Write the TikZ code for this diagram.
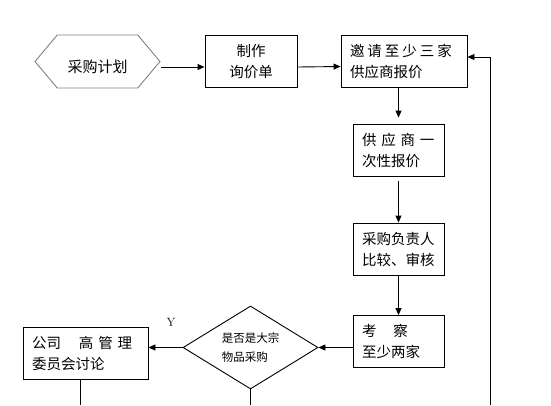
\documentclass[tikz,border=0pt]{standalone}
\usepackage{fontspec}
\usepackage{tikz}
\usetikzlibrary{arrows.meta, shapes.geometric, shapes.symbols}
\newfontfamily\cjk{Noto Sans CJK SC}

\begin{document}
\begin{tikzpicture}[x=1pt, y=-1pt,
	box/.style={draw, line width=0.9pt, align=left, inner xsep=9pt, inner ysep=0pt,
		minimum height=52pt, font=\cjk\fontsize{14.5}{21}\selectfont},
	arr/.style={line width=0.9pt, -{Triangle[length=7pt, width=6pt]}},
	wire/.style={line width=0.9pt}]
	\useasboundingbox (0,0) rectangle (551,405);
	
	% Nodes of the flow
	\node[signal, signal to=east and west, signal pointer angle=100, draw=gray, line width=0.9pt,
		minimum width=125pt, minimum height=53pt, inner sep=0pt, text height=22pt, text depth=0pt,
		font=\cjk\fontsize{15}{18}\selectfont] (plan) at (97.5, 61.5) {采购计划};
	\node[box, align=center, text width=74pt] (ask) at (251, 61.5) {制作\\询价单};
	\node[box, text width=108pt] (invite) at (404, 61)
		{邀\kern3pt 请\kern3pt 至\kern3pt 少\kern3pt 三\kern3pt 家\\供应商报价};
	\node[box, text width=73pt] (quote) at (398.5, 150) {供 应 商 一\\次性报价};
	\node[box, text width=73pt] (compare) at (398.5, 249) {采购负责人\\比较、审核};
	\node[box, text width=73pt] (survey) at (398.5, 341.5) {考\hspace{17pt}察\\至少两家};
	\node[draw, diamond, aspect=1.63, line width=0.9pt, minimum width=135pt, minimum height=83pt,
		inner sep=0pt, align=left, font=\cjk\fontsize{11.5}{19}\selectfont] (decide) at (250.5, 347.5)
		{是否是大宗\\物品采购};
	\node[box, text width=107pt] (board) at (85.5, 353) {公司\hspace{18pt}高 管 理\\委员会讨论};
	\node[font=\fontsize{12}{14}\selectfont] (ylab) at (171, 322) {Y};
	
	% Free ends at the lower edge
	\coordinate (boardend) at (80, 405);
	\coordinate (decideend) at (250.5, 405);
	\coordinate (loopend) at (490, 405);
	\coordinate (loopturn) at (490, 57);
	
	% Connectors
	\draw[arr] ([yshift=-5.5pt]plan.east) -- ([yshift=-5.5pt]ask.west);
	\draw[arr] ([yshift=-5.5pt]ask.east) -- ([yshift=-5.5pt]invite.west);
	\draw[arr, shorten >=6pt] (invite.south -| quote.north) -- (quote.north);
	\draw[arr, shorten <=5pt] (quote.south) -- (compare.north);
	\draw[arr] (compare.south) -- (survey.north);
	\draw[arr] (survey.west |- decide.east) -- (decide.east);
	\draw[arr] (decide.west) -- (decide.west -| board.east);
	\draw[wire] (board.south -| boardend) -- (boardend);
	\draw[wire] (decide.south) -- (decideend);
	\draw[arr] (loopend) -- (loopturn) -- (loopturn -| invite.east);
\end{tikzpicture}
\end{document}
